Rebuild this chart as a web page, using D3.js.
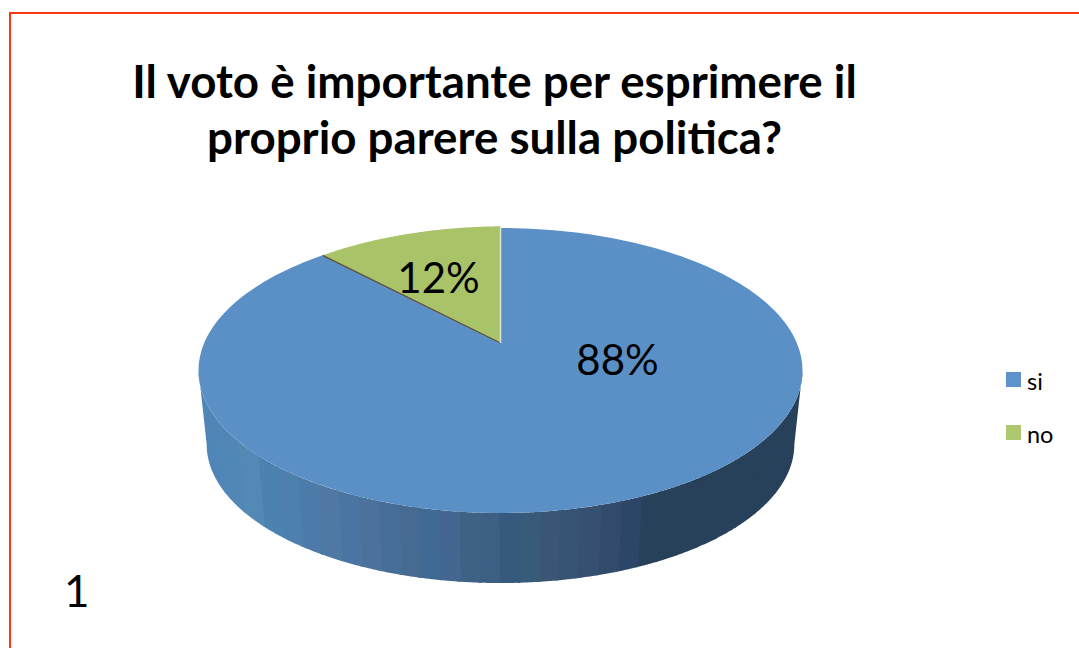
<!DOCTYPE html>
<html>
<head>
<meta charset="utf-8">
<script src="https://cdn.jsdelivr.net/npm/d3@7"></script>
<style>
  html, body { margin: 0; padding: 0; background: #fff; overflow: hidden; }
  text { font-family: Lato, "Open Sans", sans-serif; fill: #000; }
</style>
</head>
<body>
<svg id="chart" width="1079" height="648"></svg>
<script>
// Survey answers
const categories = ["si", "no"];
const percentages = [88, 12];
const titleLines = ["Il voto è importante per esprimere il", "proprio parere sulla politica?"];
const pageNumber = "1";

// Colours
const sliceColors = ["#5b90c6", "#a9c468"];
const legendColors = ["#5c93cc", "#aec86f"];
const frameColor = "#ff3412";
// Shades of the drum wall, from its left end to its right end
const wallShades = [
  "#5085b7", "#5087b7", "#5589b5", "#4c82b0", "#4e80ae", "#4d7ba9", "#4f78a5", "#4a75a3",
  "#4c719c", "#456f99", "#476a92", "#3f6a93", "#446690", "#3d6286", "#3e5f84", "#365a7d",
  "#375b78", "#3a5674", "#355372", "#355070", "#334b6a", "#2c4668", "#28415a", "#28415a",
  "#28415a", "#28415a", "#28415a", "#28415a", "#28415a", "#28415a"
];

const svg = d3.select("#chart");

// Perspective view of the disc: the hub sits above the centre of the visible ellipse
const hub = { x: 500.5, y: 343 };
const tilt = 0.193;
const radiusX = 296.3, radiusY = 137.2;
const wallDrop = 74.6, wallScale = 0.973;

function project(angle, radius = 1, drop = 0, scale = 1) {
  const u = Math.sin(angle) * radius, v = -Math.cos(angle) * radius;
  const w = 1 - tilt * v;
  return [hub.x + scale * radiusX * u / w, hub.y + drop + scale * radiusY * v / w];
}

const slices = d3.pie().sort(null).value(d => d)(percentages);
const line = d3.line();
// Rim points between two angles; the radius may ease from one value to another
const rim = (a0, a1, r0 = 1, r1 = r0) =>
  d3.range(0, 181).map(i => project(a0 + (a1 - a0) * i / 180, r0 + (r1 - r0) * i / 180));

// Frame around the slide
svg.append("path")
  .attr("d", line([[10, 648], [10, 13], [1079, 13]]))
  .attr("fill", "none")
  .attr("stroke", frameColor)
  .attr("stroke-width", 2);

// Drum wall: the visible rim runs between the two points where the outline is widest.
// Rim angles are grouped into vertical bands, each filled with one shade.
const wallStart = Math.PI - Math.acos(tilt), wallEnd = Math.PI + Math.acos(tilt);
const bandAt = d3.scaleQuantize().domain([198, 804]).range(d3.range(wallShades.length));
const rimAngles = d3.range(wallStart, wallEnd, Math.PI / 720).concat(wallEnd);
const bands = d3.groups(rimAngles, a => bandAt(project(a)[0]));
const wall = svg.append("g");
bands.forEach(([band, angles], k) => {
  // Each band runs a little under the one painted after it, which hides the seam
  const next = bands[k + 1];
  const span = next ? angles.concat(next[1].slice(0, 3)) : angles;
  const upper = span.map(a => project(a));
  const lower = span.map(a => project(a, 1, wallDrop, wallScale)).reverse();
  wall.append("path")
    .attr("d", line(upper.concat(lower)) + "Z")
    .attr("fill", wallShades[band]);
});

// Top face
const face = svg.append("g");
face.append("path")
  .attr("d", line([[hub.x, hub.y], ...rim(slices[0].startAngle, slices[0].endAngle)]) + "Z")
  .attr("fill", sliceColors[0]);
face.append("path")
  .attr("d", line([[hub.x, hub.y], ...rim(slices[1].startAngle, slices[1].endAngle, 1, 1.018)]) + "Z")
  .attr("fill", sliceColors[1]);

// Cut edges of the smaller slice: dark on the left, pale on the right
face.append("path")
  .attr("d", line([[hub.x, hub.y], project(slices[1].startAngle)]))
  .attr("stroke", "#5d5038").attr("stroke-width", 1.3).attr("fill", "none");
face.append("path")
  .attr("d", line([[hub.x, hub.y], project(slices[1].endAngle, 1.018)]))
  .attr("stroke", "#dfe5d2").attr("stroke-width", 1.5).attr("fill", "none");

// Percentage labels
const labelAnchors = [[617.5, 375], [438.5, 293]];
svg.append("g").selectAll("text").data(percentages).join("text")
  .attr("x", (d, i) => labelAnchors[i][0])
  .attr("y", (d, i) => labelAnchors[i][1])
  .attr("text-anchor", "middle")
  .attr("font-size", 42)
  .text(d => d + "%");

// Title
svg.append("g").selectAll("text").data(titleLines).join("text")
  .attr("x", 494.5)
  .attr("y", (d, i) => 98 + i * 56)
  .attr("text-anchor", "middle")
  .attr("font-size", 45.7)
  .attr("font-weight", 700)
  .text(d => d);

// Legend
const legendY = d3.scalePoint().domain(categories).range([379.5, 432.5]);
const legend = svg.append("g").selectAll("g").data(categories).join("g")
  .attr("transform", d => `translate(1006,${legendY(d)})`);
legend.append("rect")
  .attr("y", -7.5).attr("width", 15).attr("height", 15)
  .attr("fill", (d, i) => legendColors[i]);
legend.append("text")
  .attr("x", 21).attr("y", 10.5)
  .attr("font-size", 23.5)
  .text(d => d);

// Slide number
svg.append("text")
  .attr("x", 64).attr("y", 606.5)
  .attr("font-size", 44)
  .text(pageNumber);
</script>
</body>
</html>
